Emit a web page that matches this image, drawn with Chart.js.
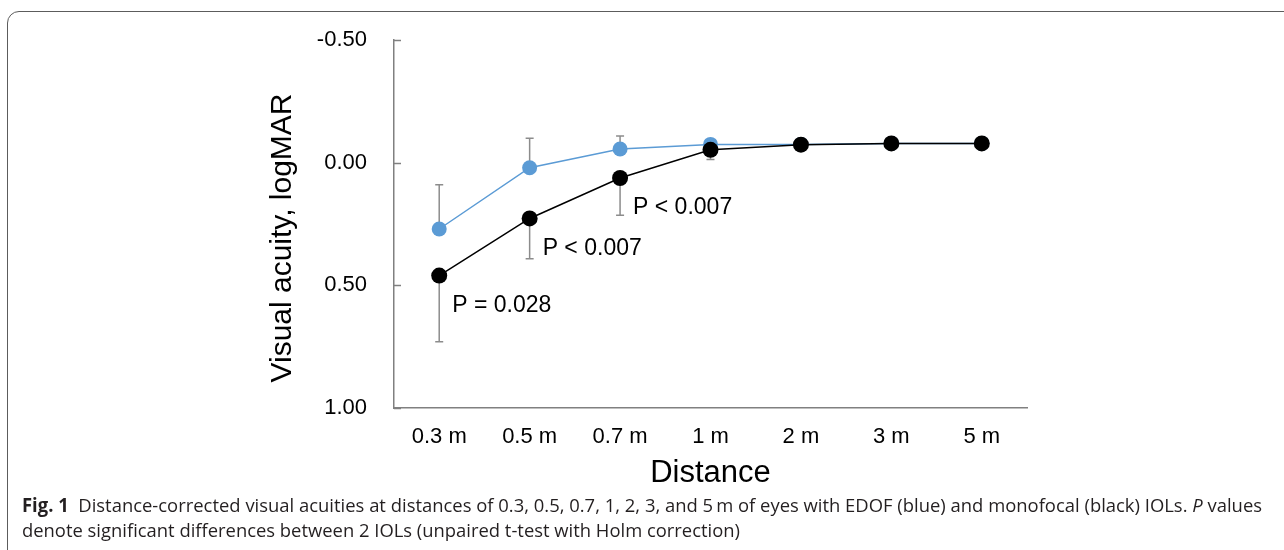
<!DOCTYPE html>
<html>
<head>
<meta charset="utf-8">
<script src="https://cdn.jsdelivr.net/npm/chart.js@4.4.1/dist/chart.umd.min.js"></script>
<style>
  body { margin: 0; background: #fff; }
  #page { position: relative; width: 1284px; height: 550px; overflow: hidden; }
  #frame {
    position: absolute; left: 7px; top: 11px; width: 1320px; height: 620px;
    border: 1.5px solid #5c5c5c; border-radius: 12px; box-sizing: border-box;
  }
  #chart { position: absolute; left: 0; top: 0; }
  .cap {
    position: absolute; left: 22px; white-space: nowrap;
    font-family: "Open Sans", sans-serif; font-size: 19px; color: #231f20;
    transform-origin: 0 50%;
  }
  .cap b { font-weight: 700; }
</style>
</head>
<body>
<div id="page">
  <div id="frame"></div>
  <canvas id="chart" width="1284" height="550"></canvas>
  <div class="cap" id="cap1" data-w="1240" style="top:492px"><b>Fig. 1</b>&nbsp; Distance-corrected visual acuities at distances of 0.3, 0.5, 0.7, 1, 2, 3, and 5&#8201;m of eyes with EDOF (blue) and monofocal (black) IOLs. <i>P</i> values</div>
  <div class="cap" id="cap2" data-w="718" style="top:517px">denote significant differences between 2 IOLs (unpaired t-test with Holm correction)</div>
</div>
<script>
// chart data
const distances = ['0.3 m', '0.5 m', '0.7 m', '1 m', '2 m', '3 m', '5 m'];
const edofMean = [0.27, 0.02, -0.056, -0.075, -0.075, -0.079, -0.079];
const edofSd = [0.18, 0.12, 0.053, 0.01, 0.01, 0.01, 0.01];
const monoMean = [0.46, 0.227, 0.062, -0.053, -0.074, -0.079, -0.079];
const monoSd = [0.27, 0.164, 0.152, 0.04, 0.01, 0.01, 0.01];
const pLabels = ['P = 0.028', 'P < 0.007', 'P < 0.007', null, null, null, null];
const yTicks = [-0.5, 0, 0.5, 1.0];

const FONT = '"Liberation Sans", Arial, sans-serif';

// squeeze the caption lines to the width they take in the figure
document.querySelectorAll('.cap').forEach(el => {
  const w = el.getBoundingClientRect().width;
  el.style.transform = 'scaleX(' + (parseFloat(el.dataset.w) / w) + ')';
});

// error bars: EDOF goes up (better), monofocal goes down
const errorBars = {
  id: 'errorBars',
  beforeDatasetsDraw(chart) {
    const ctx = chart.ctx;
    const x = chart.scales.x, y = chart.scales.y;
    ctx.save();
    ctx.strokeStyle = '#8c8c8c';
    ctx.lineWidth = 1.5;
    const draw = (means, sds, sign) => {
      means.forEach((m, i) => {
        const px = x.getPixelForValue(i);
        const y0 = y.getPixelForValue(m);
        const y1 = y.getPixelForValue(m + sign * sds[i]);
        ctx.beginPath();
        ctx.moveTo(px, y0); ctx.lineTo(px, y1);
        ctx.moveTo(px - 4, y1); ctx.lineTo(px + 4, y1);
        ctx.stroke();
      });
    };
    draw(edofMean, edofSd, -1);
    draw(monoMean, monoSd, 1);
    ctx.restore();
  }
};

// inward tick marks, y title and P value notes
const extras = {
  id: 'extras',
  afterDraw(chart) {
    const ctx = chart.ctx;
    const x = chart.scales.x, y = chart.scales.y;
    const left = chart.chartArea.left;
    ctx.save();
    ctx.strokeStyle = '#808080';
    ctx.lineWidth = 1.5;
    yTicks.forEach(v => {
      const py = Math.round(y.getPixelForValue(v)) + 0.5;
      ctx.beginPath(); ctx.moveTo(left, py); ctx.lineTo(left + 7, py); ctx.stroke();
    });

    ctx.fillStyle = '#000';
    ctx.font = '30px ' + FONT;
    ctx.textAlign = 'center';
    ctx.textBaseline = 'middle';
    ctx.translate(283, 238);
    ctx.rotate(-Math.PI / 2);
    ctx.fillText('Visual acuity, logMAR', 0, 0);
    ctx.restore();

    ctx.save();
    ctx.fillStyle = '#000';
    ctx.font = '23px ' + FONT;
    ctx.textAlign = 'left';
    ctx.textBaseline = 'middle';
    pLabels.forEach((t, i) => {
      if (!t) return;
      const px = x.getPixelForValue(i);
      const py = y.getPixelForValue(monoMean[i]);
      ctx.fillText(t, px + 13, py + 30);
    });
    ctx.restore();
  }
};

const ctx = document.getElementById('chart').getContext('2d');
new Chart(ctx, {
  type: 'line',
  data: {
    labels: distances,
    datasets: [
      {
        label: 'Monofocal',
        data: monoMean,
        borderColor: '#000',
        backgroundColor: '#000',
        borderWidth: 1.5,
        pointRadius: 8,
        pointBorderWidth: 0,
        order: 1
      },
      {
        label: 'EDOF',
        data: edofMean,
        borderColor: '#5b9bd5',
        backgroundColor: '#5b9bd5',
        borderWidth: 1.5,
        pointRadius: 7.5,
        pointBorderWidth: 0,
        order: 2
      }
    ]
  },
  options: {
    responsive: false,
    animation: false,
    layout: { padding: { left: 0, right: 257, top: 37, bottom: 42 } },
    plugins: { legend: { display: false }, tooltip: { enabled: false } },
    scales: {
      x: {
        offset: true,
        grid: { display: false, drawTicks: false },
        border: { display: true, color: '#808080', width: 1.5 },
        ticks: { color: '#000', font: { family: FONT, size: 22 }, padding: 16 },
        title: {
          display: true, text: 'Distance', color: '#000',
          font: { family: FONT, size: 31 }, padding: { top: 0, bottom: 16 }
        },
        afterFit(scale) { scale.height = 100; }
      },
      y: {
        reverse: true,
        min: -0.5,
        max: 1.0,
        grid: { display: false, drawTicks: false },
        border: { display: true, color: '#808080', width: 1.5 },
        ticks: {
          stepSize: 0.5, color: '#000', padding: 27,
          font: { family: FONT, size: 22 },
          callback: v => Number(v).toFixed(2)
        },
        afterFit(scale) { scale.width = 394; }
      }
    }
  },
  plugins: [errorBars, extras]
});
</script>
</body>
</html>
